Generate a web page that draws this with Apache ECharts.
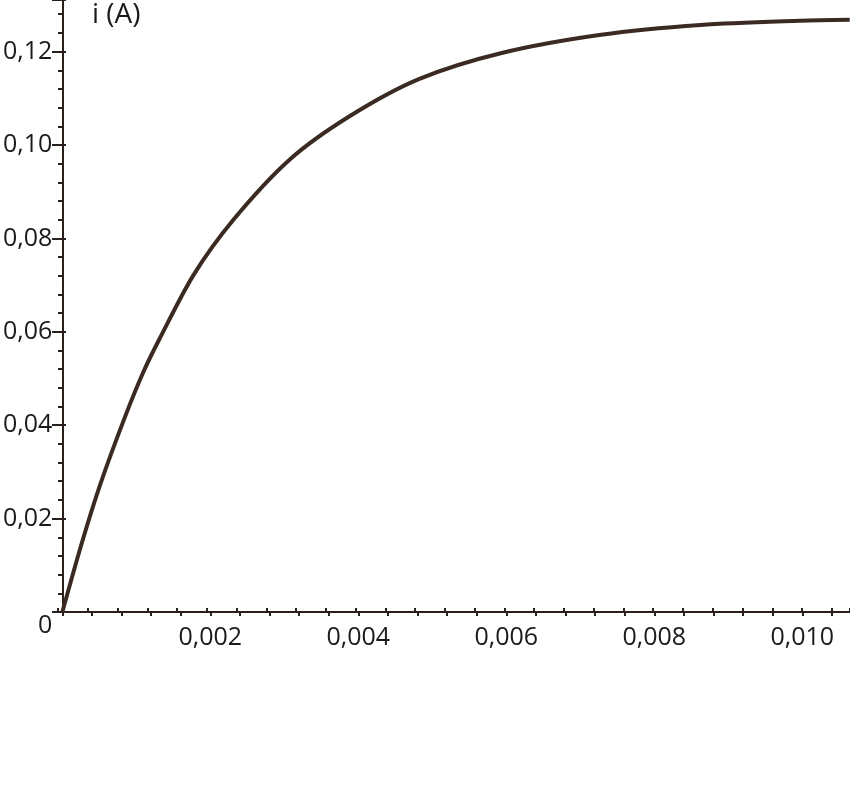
<!DOCTYPE html>
<html><head><meta charset="utf-8">
<script src="https://cdn.jsdelivr.net/npm/echarts@6/dist/echarts.min.js"></script>
<style>html,body{margin:0;padding:0;background:#fff}#c{width:850px;height:800px}</style>
</head><body><div id="c"></div>
<script>
// data
const timeValues = [0, 0.000269, 0.000516, 0.000852, 0.001098, 0.001304, 0.001774, 0.002312, 0.003074, 0.003876, 0.004817, 0.005937, 0.007281, 0.008625, 0.009969, 0.010641];
const currentValues = [0, 0.0151, 0.0275, 0.0420, 0.0515, 0.0582, 0.0722, 0.0840, 0.0969, 0.1061, 0.1141, 0.1197, 0.1236, 0.1257, 0.1266, 0.1268];
const xTickLabels = ['0,002', '0,004', '0,006', '0,008', '0,010'];
const yTickLabels = ['0', '0,02', '0,04', '0,06', '0,08', '0,10', '0,12'];
const yAxisTitle = 'i (A)';

const X_MAX = 0.010645, Y_MAX = 0.13105;
const INK = '#2a1f1a';
const FONT = 'Open Sans';
const gridRect = { left: 58, top: 0, width: 792, height: 612 };

function xAx(g, extra) {
  return Object.assign({
    type: 'value', gridIndex: g, min: 0, max: X_MAX, interval: 0.0004,
    splitLine: { show: false }, axisLine: { show: false },
    axisTick: { show: false }, axisLabel: { show: false }
  }, extra);
}
function yAx(g, interval, extra) {
  return Object.assign({
    type: 'value', gridIndex: g, min: 0, max: Y_MAX, interval: interval,
    splitLine: { show: false }, axisLine: { show: false },
    axisTick: { show: false }, axisLabel: { show: false }
  }, extra);
}

const data = timeValues.map((t, i) => [t, currentValues[i]]);

const option = {
  animation: false,
  backgroundColor: '#ffffff',
  grid: [0, 1, 2, 3].map(() => Object.assign({}, gridRect)),
  xAxis: [
    xAx(0, {
      axisLine: { show: true, lineStyle: { color: INK, width: 2 } },
      axisTick: { show: true, inside: false, length: 4, lineStyle: { color: INK, width: 2 } },
      axisLabel: {
        show: true, margin: 13, fontFamily: FONT, fontSize: 25, color: '#1a1a1a',
        showMaxLabel: false,
        formatter: v => {
          const k = Math.round(v / 0.002);
          if (Math.abs(v - k * 0.002) > 1e-9 || k < 1) return '';
          return xTickLabels[k - 1] || '';
        }
      }
    }),
    xAx(1, { axisTick: { show: true, inside: true, length: 4, lineStyle: { color: INK, width: 2 } } }),
    xAx(2, { show: false }),
    xAx(3, { show: false })
  ],
  yAxis: [
    yAx(0, 0.004, {
      axisLine: { show: true, lineStyle: { color: INK, width: 2 } },
      axisTick: { show: true, inside: false, length: 4, lineStyle: { color: INK, width: 2 } },
      axisLabel: {
        show: true, margin: 10, fontFamily: FONT, fontSize: 25, color: '#1a1a1a',
        showMaxLabel: false,
        formatter: v => {
          const k = Math.round(v / 0.02);
          if (Math.abs(v - k * 0.02) > 1e-9) return '';
          if (k === 0) return '{o|' + yTickLabels[0] + '}';
          return yTickLabels[k] || '';
        },
        rich: { o: { fontFamily: FONT, fontSize: 25, color: '#1a1a1a', padding: [28, 0, 0, 0] } }
      }
    }),
    yAx(1, 0.004, { axisTick: { show: true, inside: true, length: 4, lineStyle: { color: INK, width: 2 } } }),
    yAx(2, 0.02, { axisTick: { show: true, inside: false, length: 6, lineStyle: { color: INK, width: 2 } } }),
    yAx(3, 0.02, { axisTick: { show: true, inside: true, length: 8, lineStyle: { color: INK, width: 2 } } })
  ],
  graphic: [{
    type: 'text', left: 92, top: 1,
    style: { text: yAxisTitle, fontFamily: FONT, fontSize: 28, fill: '#1a1a1a' }
  }],
  series: [{
    type: 'line', xAxisIndex: 0, yAxisIndex: 0,
    data: data, showSymbol: false, smooth: 0.3,
    lineStyle: { color: '#3a2a21', width: 4 },
    clip: false, z: 3
  }]
};

const chart = echarts.init(document.getElementById('c'));
chart.setOption(option);
</script>
</body></html>
